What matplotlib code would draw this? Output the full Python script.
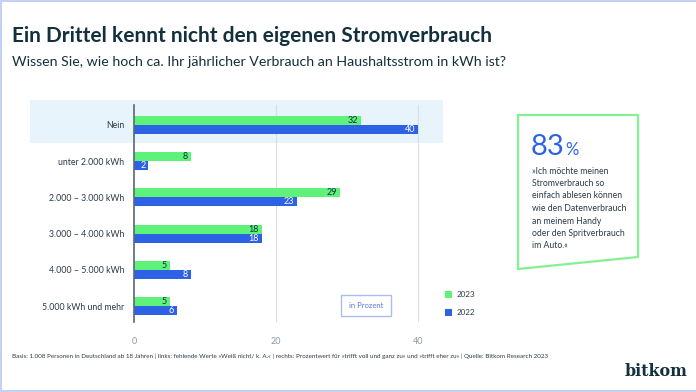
import matplotlib
matplotlib.use("Agg")
import matplotlib.pyplot as plt
from matplotlib.patches import Rectangle, Polygon
from matplotlib.lines import Line2D
import numpy as np

plt.rcParams['font.family'] = ['Lato', 'DejaVu Sans']

categories = ["Nein", "unter 2.000 kWh", "2.000 – 3.000 kWh", "3.000 – 4.000 kWh",
              "4.000 – 5.000 kWh", "5.000 kWh und mehr"]
values_2023 = [32, 8, 29, 18, 5, 5]
values_2022 = [40, 2, 23, 18, 8, 6]
series_names = ["2023", "2022"]
xticks = [0, 20, 40]

title = "Ein Drittel kennt nicht den eigenen Stromverbrauch"
subtitle = "Wissen Sie, wie hoch ca. Ihr jährlicher Verbrauch an Haushaltsstrom in kWh ist?"
footer = ("Basis: 1.008 Personen in Deutschland ab 18 Jahren | links: fehlende Werte »Weiß nicht/ k. A.« | "
          "rechts: Prozentwert für »trifft voll und ganz zu« und »trifft eher zu« | Quelle: Bitkom Research 2023")
quote_big = "83"
quote_lines = ["»Ich möchte meinen", "Stromverbrauch so", "einfach ablesen können",
               "wie den Datenverbrauch", "an meinem Handy", "oder den Spritverbrauch", "im Auto.«"]

GREEN = "#5EF27A"
BLUE = "#2E62E6"
DARK = "#14303D"
TEXT = "#2B3B47"

W, H = 696, 392
fig = plt.figure(figsize=(W / 100, H / 100), dpi=100)
fig.patch.set_facecolor("white")

def fx(px):
    return px / W

def fy(py):
    return 1 - py / H

# border lines
for (x0, y0, x1, y1) in [(1, 0.5, W, 0.5), (1, 0, 1, H), (1, 390.5, W, 390.5)]:
    fig.add_artist(Line2D([fx(x0), fx(x1)], [fy(y0), fy(y1)], color="#C3D2F4", lw=1.5))

# highlight band
fig.add_artist(Rectangle((fx(30), fy(143)), fx(443) - fx(30), fy(100) - fy(143),
                         facecolor="#E7F4FB", edgecolor="none", zorder=0))

ax_left, ax_right, ax_top, ax_bot = 134, 443, 105, 322
ax = fig.add_axes([fx(ax_left), fy(ax_bot), fx(ax_right) - fx(ax_left), fy(ax_top) - fy(ax_bot)])
ax.patch.set_alpha(0)

y = np.arange(len(categories))
h = 0.25
ax.barh(y - h / 2, values_2023, height=h, color=GREEN, zorder=3)
ax.barh(y + h / 2, values_2022, height=h, color=BLUE, zorder=3)
for yi, v in zip(y, values_2023):
    ax.text(v - 0.4, yi - h / 2, str(v), ha="right", va="center", fontsize=6.5,
            color=DARK, zorder=4)
for yi, v in zip(y, values_2022):
    ax.text(v - 0.4, yi + h / 2, str(v), ha="right", va="center", fontsize=6.5,
            color="white", zorder=4)

ax.set_xlim(0, (ax_right - ax_left) / 7.1)
ax.set_ylim(5.44, -0.55)
ax.set_yticks(y)
ax.set_yticklabels(categories, fontsize=6.3, color=TEXT)
ax.set_xticks(xticks)
ax.set_xticklabels([str(t) for t in xticks], fontsize=6.5, color="#8C9BA6")
ax.tick_params(axis="both", length=0)
ax.tick_params(axis="y", pad=7)
ax.tick_params(axis="x", pad=11)
for s in ["top", "right", "bottom"]:
    ax.spines[s].set_visible(False)
ax.spines["left"].set_color("#5A6770")
ax.spines["left"].set_linewidth(1.2)
ax.spines["left"].set_zorder(5)
for t in xticks[1:]:
    ax.axvline(t, color="#D8DEE2", lw=0.8, zorder=1)

# in Prozent box
fig.add_artist(Rectangle((fx(341), fy(316)), fx(391) - fx(341), fy(295) - fy(316),
                         facecolor="white", edgecolor="#A9BDF0", lw=1.0))
fig.text(fx(366), fy(305.5), "in Prozent", ha="center", va="center", fontsize=5.5, color="#5A7BD8")

# legend
for i, (name, col) in enumerate(zip(series_names, [GREEN, BLUE])):
    yc = 294.5 + 18 * i
    fig.add_artist(Rectangle((fx(445), fy(yc + 3.5)), fx(452) - fx(445), fy(yc - 3.5) - fy(yc + 3.5),
                             facecolor=col, edgecolor="none"))
    fig.text(fx(457), fy(yc), name, ha="left", va="center", fontsize=5.8, color=TEXT)

# right quote box
fig.add_artist(Polygon([(fx(518), fy(115)), (fx(638), fy(115)), (fx(638), fy(257)), (fx(518), fy(269))],
                       closed=True, facecolor="white", edgecolor="#84F093", lw=1.6))
t83 = fig.text(fx(531), fy(155), quote_big, ha="left", va="baseline", fontsize=21, color=BLUE)
fig.canvas.draw()
bb = t83.get_window_extent()
fig.text(bb.x1 / W + 0.001, fy(155), "%", ha="left", va="baseline", fontsize=12, color=BLUE)
for i, line in enumerate(quote_lines):
    fig.text(fx(532), fy(171 + 12.5 * i), line, ha="left", va="center", fontsize=6.2, color=TEXT)

# titles
fig.text(fx(12), fy(36), title, ha="left", va="center", fontsize=15, fontweight="bold", color=DARK)
fig.text(fx(12), fy(62), subtitle, ha="left", va="center", fontsize=10.2, color=DARK)
fig.text(fx(12), fy(356), footer, ha="left", va="center", fontsize=4.5, color=TEXT)

# logo
fig.text(fx(625), fy(372), "bitkom", ha="left", va="center", fontsize=11.5, fontweight="bold",
         family=["DejaVu Serif"], color=DARK)

fig.savefig("out.png", dpi=100)
